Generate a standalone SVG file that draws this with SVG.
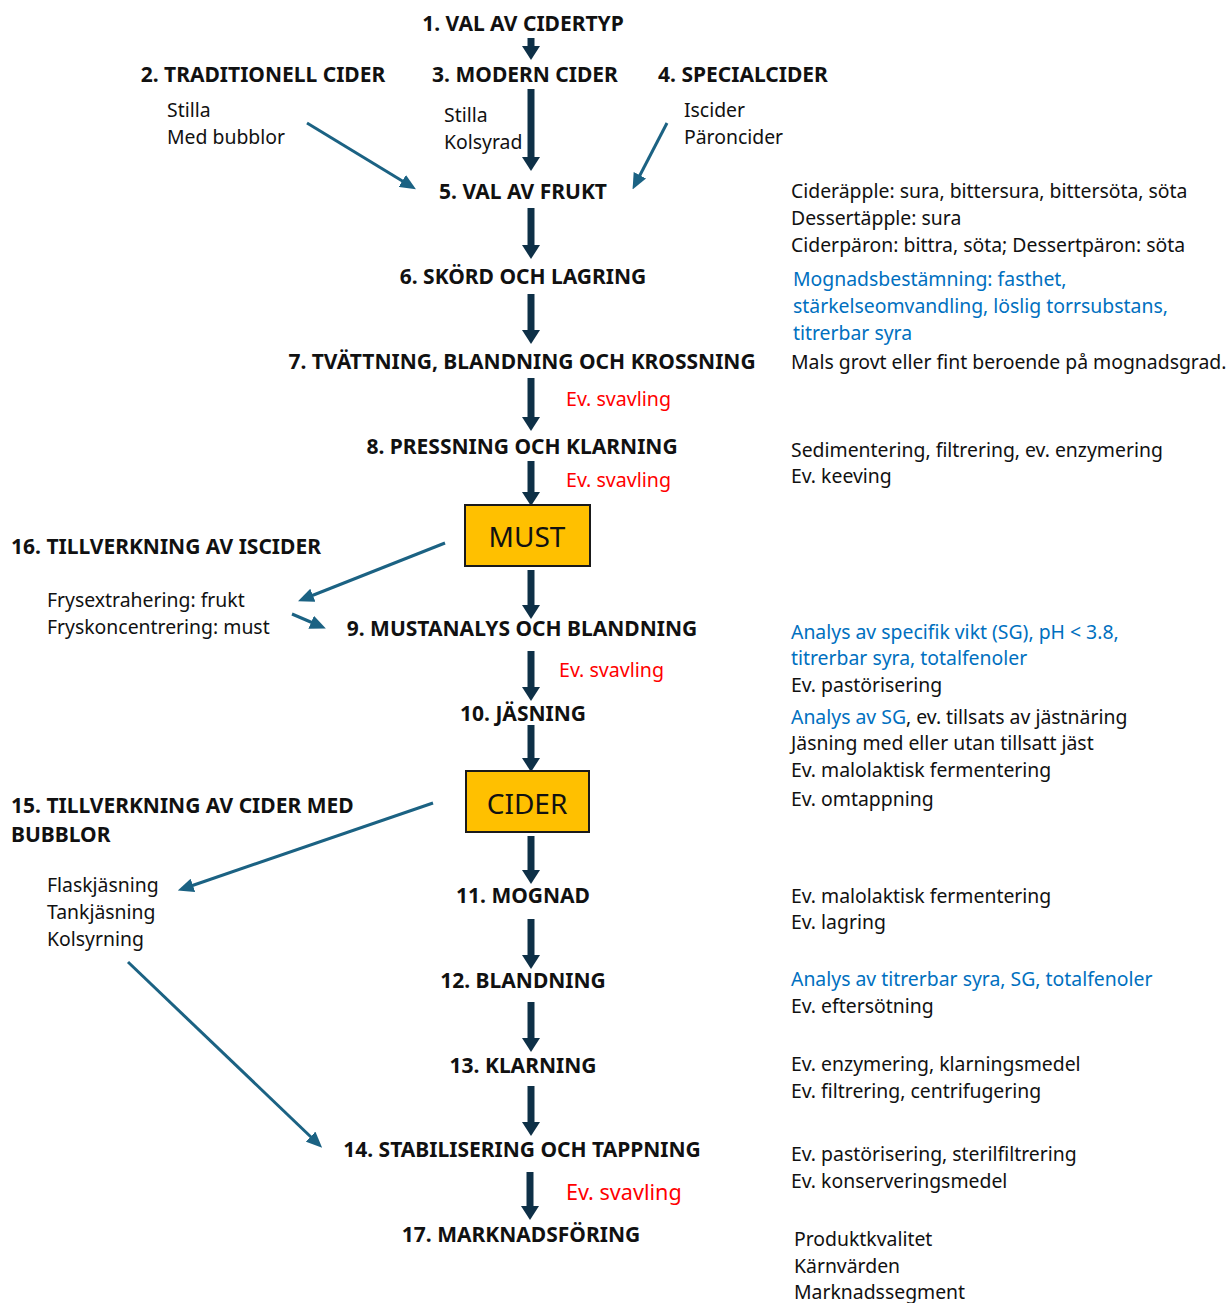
<svg xmlns="http://www.w3.org/2000/svg" width="1231" height="1303" viewBox="0 0 1231 1303">
<style>
text{font-family:"Noto Sans","Open Sans","Liberation Sans",sans-serif;fill:#111}
.t{font-weight:bold;font-size:21px;text-anchor:middle}
.tl{font-weight:bold;font-size:21px}
.n{font-size:19.4px}
.bl{fill:#0070c0}
.red{fill:#ff0000;font-size:19.6px}
.box{fill:#ffc000;stroke:#1a1a1a;stroke-width:2}
.bt{font-size:28px;text-anchor:middle}
.da{stroke:#0e3047;stroke-width:7;fill:none}
.ba{stroke:#1b6283;stroke-width:3;fill:none}
</style>
<defs>
<marker id="dh" markerUnits="userSpaceOnUse" viewBox="0 0 14 18" markerWidth="14" markerHeight="18" refX="2" refY="9" orient="auto">
<path d="M0,0 L14,9 L0,18 z" fill="#0e3047"/>
</marker>
<marker id="bh" markerUnits="userSpaceOnUse" viewBox="0 0 16 14" markerWidth="16" markerHeight="14" refX="2" refY="7" orient="auto">
<path d="M0,0 L16,7 L0,14 z" fill="#1b6283"/>
</marker>
</defs>
<rect width="1231" height="1303" fill="#fff"/>

<g id="connectors">
<line class="da" x1="531" y1="38" x2="531" y2="48" marker-end="url(#dh)"/>
<line class="da" x1="531" y1="89" x2="531" y2="159" marker-end="url(#dh)"/>
<line class="da" x1="531" y1="208" x2="531" y2="247" marker-end="url(#dh)"/>
<line class="da" x1="531" y1="294" x2="531" y2="332" marker-end="url(#dh)"/>
<line class="da" x1="531" y1="378" x2="531" y2="419" marker-end="url(#dh)"/>
<line class="da" x1="531" y1="461" x2="531" y2="494" marker-end="url(#dh)"/>
<line class="da" x1="531" y1="570" x2="531" y2="607" marker-end="url(#dh)"/>
<line class="da" x1="531" y1="651" x2="531" y2="689" marker-end="url(#dh)"/>
<line class="da" x1="531" y1="725" x2="531" y2="760" marker-end="url(#dh)"/>
<line class="da" x1="531" y1="836" x2="531" y2="872" marker-end="url(#dh)"/>
<line class="da" x1="531" y1="919" x2="531" y2="957" marker-end="url(#dh)"/>
<line class="da" x1="531" y1="1002" x2="531" y2="1040" marker-end="url(#dh)"/>
<line class="da" x1="531" y1="1086" x2="531" y2="1124" marker-end="url(#dh)"/>
<line class="da" x1="530" y1="1172" x2="530" y2="1208" marker-end="url(#dh)"/>
<line class="ba" x1="307" y1="123" x2="404" y2="182" marker-end="url(#bh)"/>
<line class="ba" x1="667" y1="123" x2="639" y2="177" marker-end="url(#bh)"/>
<line class="ba" x1="445" y1="543" x2="311" y2="596" marker-end="url(#bh)"/>
<line class="ba" x1="292" y1="614" x2="313" y2="623" marker-end="url(#bh)"/>
<line class="ba" x1="433" y1="803" x2="191" y2="886" marker-end="url(#bh)"/>
<line class="ba" x1="128" y1="962" x2="312" y2="1138" marker-end="url(#bh)"/>
</g>

<g id="n1"><text class="t" x="523" y="31">1. VAL AV CIDERTYP</text></g>
<g id="n2"><text class="t" x="263" y="82">2. TRADITIONELL CIDER</text>
<text class="n" x="167" y="117">Stilla</text><text class="n" x="167" y="144">Med bubblor</text></g>
<g id="n3"><text class="t" x="525" y="82">3. MODERN CIDER</text>
<text class="n" x="444" y="122">Stilla</text><text class="n" x="444" y="149">Kolsyrad</text></g>
<g id="n4"><text class="t" x="743" y="82">4. SPECIALCIDER</text>
<text class="n" x="684" y="117">Iscider</text><text class="n" x="684" y="144">Päroncider</text></g>
<g id="n5"><text class="t" x="523" y="199">5. VAL AV FRUKT</text>
<text class="n" x="791" y="198">Cideräpple: sura, bittersura, bittersöta, söta</text>
<text class="n" x="791" y="225">Dessertäpple: sura</text>
<text class="n" x="791" y="252">Ciderpäron: bittra, söta; Dessertpäron: söta</text></g>
<g id="n6"><text class="t" x="523" y="284">6. SKÖRD OCH LAGRING</text>
<text class="n bl" x="793" y="286">Mognadsbestämning: fasthet,</text>
<text class="n bl" x="793" y="313">stärkelseomvandling, löslig torrsubstans,</text>
<text class="n bl" x="793" y="340">titrerbar syra</text></g>
<g id="n7"><text class="t" x="522" y="369">7. TVÄTTNING, BLANDNING OCH KROSSNING</text>
<text class="n" x="791" y="369">Mals grovt eller fint beroende på mognadsgrad.</text>
<text class="red" x="566" y="406">Ev. svavling</text></g>
<g id="n8"><text class="t" x="522" y="454">8. PRESSNING OCH KLARNING</text>
<text class="n" x="791" y="457">Sedimentering, filtrering, ev. enzymering</text>
<text class="n" x="791" y="483">Ev. keeving</text>
<text class="red" x="566" y="487">Ev. svavling</text></g>
<g id="must"><rect class="box" x="465" y="505" width="125" height="61"/>
<text class="bt" x="527" y="547">MUST</text></g>
<g id="n16"><text class="tl" x="11" y="554">16. TILLVERKNING AV ISCIDER</text>
<text class="n" x="47" y="607">Frysextrahering: frukt</text>
<text class="n" x="47" y="634">Fryskoncentrering: must</text></g>
<g id="n9"><text class="t" x="522" y="636">9. MUSTANALYS OCH BLANDNING</text>
<text class="n bl" x="791" y="639">Analys av specifik vikt (SG), pH &lt; 3.8,</text>
<text class="n bl" x="791" y="665">titrerbar syra, totalfenoler</text>
<text class="n" x="791" y="692">Ev. pastörisering</text>
<text class="red" x="559" y="677">Ev. svavling</text></g>
<g id="n10"><text class="t" x="523" y="721">10. JÄSNING</text>
<text class="n" x="791" y="724"><tspan class="bl">Analys av SG</tspan>, ev. tillsats av jästnäring</text>
<text class="n" x="791" y="750">Jäsning med eller utan tillsatt jäst</text>
<text class="n" x="791" y="777">Ev. malolaktisk fermentering</text>
<text class="n" x="791" y="806">Ev. omtappning</text></g>
<g id="cider"><rect class="box" x="466" y="771" width="123" height="61"/>
<text class="bt" x="527" y="814">CIDER</text></g>
<g id="n15"><text class="tl" x="11" y="813">15. TILLVERKNING AV CIDER MED</text>
<text class="tl" x="11" y="842">BUBBLOR</text>
<text class="n" x="47" y="892">Flaskjäsning</text>
<text class="n" x="47" y="919">Tankjäsning</text>
<text class="n" x="47" y="946">Kolsyrning</text></g>
<g id="n11"><text class="t" x="523" y="903">11. MOGNAD</text>
<text class="n" x="791" y="903">Ev. malolaktisk fermentering</text>
<text class="n" x="791" y="929">Ev. lagring</text></g>
<g id="n12"><text class="t" x="523" y="988">12. BLANDNING</text>
<text class="n bl" x="791" y="986">Analys av titrerbar syra, SG, totalfenoler</text>
<text class="n" x="791" y="1013">Ev. eftersötning</text></g>
<g id="n13"><text class="t" x="523" y="1073">13. KLARNING</text>
<text class="n" x="791" y="1071">Ev. enzymering, klarningsmedel</text>
<text class="n" x="791" y="1098">Ev. filtrering, centrifugering</text></g>
<g id="n14"><text class="t" x="522" y="1157">14. STABILISERING OCH TAPPNING</text>
<text class="n" x="791" y="1161">Ev. pastörisering, sterilfiltrering</text>
<text class="n" x="791" y="1188">Ev. konserveringsmedel</text>
<text class="red" x="566" y="1200" style="font-size:21.6px">Ev. svavling</text></g>
<g id="n17"><text class="t" x="521" y="1242">17. MARKNADSFÖRING</text>
<text class="n" x="794" y="1246">Produktkvalitet</text>
<text class="n" x="794" y="1273">Kärnvärden</text>
<text class="n" x="794" y="1299">Marknadssegment</text></g>
</svg>
